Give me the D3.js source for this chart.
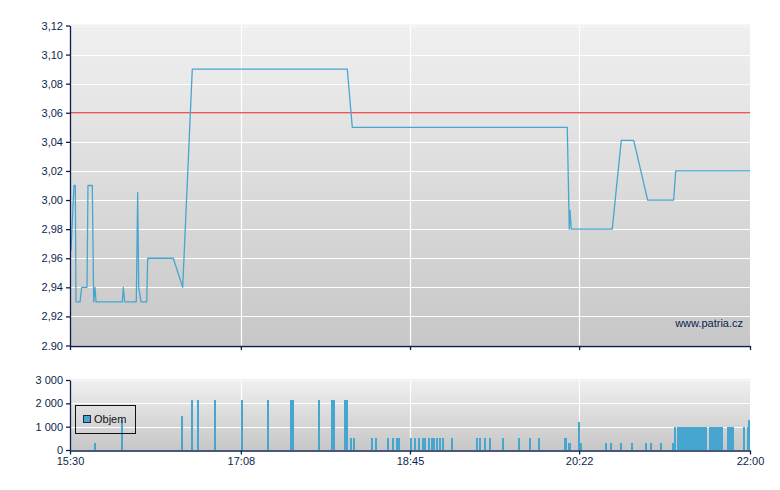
<!DOCTYPE html>
<html><head><meta charset="utf-8">
<script src="https://cdn.jsdelivr.net/npm/d3@7"></script>
<style>
html,body{margin:0;padding:0;background:#fff;}
svg text{font-family:"Liberation Sans",Arial,sans-serif;}
</style></head>
<body><svg id="c" width="780" height="490"></svg>
<script>
// ---- data ----
const priceTimes = ["15:30:34","15:32:17","15:33:02","15:33:26","15:35:44","15:36:43","15:39:45","15:40:19","15:42:47","15:43:35","15:44:20","15:44:55","16:00:00","16:00:34","16:01:22","16:08:01","16:08:49","16:09:24","16:10:43","16:14:00","16:14:34","16:29:14","16:34:38","16:40:08","18:09:02","18:11:54","20:15:12","20:16:21","20:16:45","20:17:30","20:41:00","20:46:10","20:53:18","21:01:18","21:16:13","21:17:23","22:00:00"];
const priceValues = [2.965,3.01,3.01,2.93,2.93,2.94,2.94,3.01,3.01,2.93,2.94,2.93,2.93,2.94,2.93,2.93,3.005,2.94,2.93,2.93,2.96,2.96,2.94,3.09,3.09,3.05,3.05,2.98,2.993,2.98,2.98,3.041,3.041,3.00,3.00,3.02,3.02];
const referencePrice = 3.06;

const volumeTimes = ["15:44:20","16:00:13","16:34:14","16:39:58","16:43:49","16:53:09","17:08:39","17:23:33","17:37:12","17:38:21","17:53:12","18:00:43","18:01:52","18:07:50","18:08:52",
 "18:11:33","18:13:17","18:23:36","18:25:29","18:32:46","18:35:14","18:37:39","18:38:41","18:45:34","18:47:51","18:50:19","18:52:23","18:53:15","18:54:03","18:55:53","18:57:36","18:59:09","19:00:52","19:02:22","19:04:05","19:09:05","19:23:49","19:25:32","19:28:24","19:31:16","19:38:44","19:47:30","19:53:48","19:58:58",
 "20:13:50","20:14:49","20:16:08","20:17:13","20:22:19","20:23:04","20:37:48","20:40:40","20:46:10","20:52:43","21:00:44","21:03:36","21:09:20","21:16:00","21:16:58",
 "21:19:12","21:20:12","21:21:12","21:22:12","21:23:12","21:24:12","21:25:12","21:26:12","21:27:12","21:28:12","21:29:12","21:30:12","21:31:12","21:32:12","21:33:12","21:34:12","21:35:12",
 "21:37:00","21:38:00","21:39:00","21:40:00","21:41:00","21:42:00","21:43:00","21:44:00",
 "21:47:20","21:48:20","21:49:20","21:50:20","21:56:30","21:58:47","21:59:40"];
const volumeValues = [300,1300,1450,2150,2150,2150,2150,2150,2150,2150,2150,2150,2150,2150,2150,
 500,500,500,500,500,500,500,500,500,500,500,500,500,500,500,500,500,500,500,500,500,500,500,500,500,500,500,500,500,
 500,500,300,300,1200,300,300,300,300,300,300,300,300,300,1000,
 1000,1000,1000,1000,1000,1000,1000,1000,1000,1000,1000,1000,1000,1000,1000,1000,1000,
 1000,1000,1000,1000,1000,1000,1000,1000,
 1000,1000,1000,1000,1000,1000,1300];

const xTickTimes = ["15:30:00","17:08:00","18:45:00","20:22:00","22:00:00"];
const xTickLabels = ["15:30","17:08","18:45","20:22","22:00"];
const priceTicks = [2.90,2.92,2.94,2.96,2.98,3.00,3.02,3.04,3.06,3.08,3.10,3.12];
const priceTickLabels = ["2.90","2,92","2,94","2,96","2,98","3,00","3,02","3,04","3,06","3,08","3,10","3,12"];
const volumeTicks = [0,1000,2000,3000];
const volumeTickLabels = ["0","1 000","2 000","3 000"];
const legendLabel = "Objem";
const watermark = "www.patria.cz";

// ---- setup ----
const parse = d3.timeParse("%H:%M:%S");
const svg = d3.select("#c");
const navy = "#0b1f4e";
const blue = "#47a6cf";
const L = 70, R = 750;
const mainTop = 25.5, mainBot = 345.5;
const volTop = 380, volBot = 450;

const x = d3.scaleTime().domain([parse("15:30:00"), parse("22:00:00")]).range([L, R]);
const y = d3.scaleLinear().domain([2.90, 3.12]).range([mainBot, mainTop]);
const yv = d3.scaleLinear().domain([0, 3000]).range([volBot, volTop]);

const defs = svg.append("defs");
const g1 = defs.append("linearGradient").attr("id","bg").attr("x1",0).attr("y1",0).attr("x2",0).attr("y2",1);
g1.append("stop").attr("offset","0%").attr("stop-color","#f0f0f0");
g1.append("stop").attr("offset","100%").attr("stop-color","#c7c7c7");
defs.append("clipPath").attr("id","clipMain").append("rect").attr("x",L).attr("y",mainTop-2).attr("width",R-L).attr("height",mainBot-mainTop+2);

const xTicks = xTickTimes.map(parse);

// backgrounds
svg.append("rect").attr("x",L).attr("y",mainTop-1).attr("width",R-L).attr("height",mainBot-mainTop+1).attr("fill","url(#bg)");
svg.append("rect").attr("x",L).attr("y",volTop-1).attr("width",R-L).attr("height",volBot-volTop+1).attr("fill","url(#bg)");

// grid
const gridM = svg.append("g").attr("stroke","#fff").attr("stroke-width",1.2);
priceTicks.slice(1).forEach(v=>{
  const yy = Math.round(y(v))+0.5;
  gridM.append("line").attr("x1",L).attr("x2",R).attr("y1",yy).attr("y2",yy).attr("stroke-opacity", v===3.12?0.5:1);
});
xTicks.slice(1,-1).forEach(t=>{
  const xx = Math.round(x(t))+0.5;
  gridM.append("line").attr("x1",xx).attr("x2",xx).attr("y1",mainTop).attr("y2",mainBot);
  gridM.append("line").attr("x1",xx).attr("x2",xx).attr("y1",volTop).attr("y2",volBot);
});
volumeTicks.slice(1).forEach(v=>{
  const yy = Math.round(yv(v))+0.5;
  gridM.append("line").attr("x1",L).attr("x2",R).attr("y1",yy).attr("y2",yy).attr("stroke-opacity", v===3000?0.5:1);
});

// reference line
svg.append("line").attr("x1",L).attr("x2",R).attr("y1",y(referencePrice)).attr("y2",y(referencePrice))
  .attr("stroke","#e24a4c").attr("stroke-width",1.4).attr("stroke-opacity",0.9);

// price line
const pts = priceTimes.map((t,i)=>({t:parse(t), v:priceValues[i]}));
svg.append("path").datum(pts).attr("clip-path","url(#clipMain)")
  .attr("fill","none").attr("stroke",blue).attr("stroke-width",1.3).attr("stroke-linejoin","round")
  .attr("d", d3.line().x(d=>x(d.t)).y(d=>y(d.v)));

// watermark
svg.append("text").attr("x",743).attr("y",327).attr("text-anchor","end").attr("font-size",11).attr("fill",navy).text(watermark);

// volume bars
const vols = volumeTimes.map((t,i)=>({t:parse(t), v:volumeValues[i]}));
const barW = x(parse("15:31:00")) - x(parse("15:30:00"));
svg.append("g").attr("shape-rendering","crispEdges").selectAll("rect").data(vols).join("rect")
  .attr("x", d=>Math.floor(x(d.t)-barW/2)).attr("width", Math.ceil(barW))
  .attr("y", d=>Math.round(yv(d.v))).attr("height", d=>volBot-Math.round(yv(d.v)))
  .attr("fill", blue);

// axes
function styleAxis(g){
  g.select(".domain").attr("stroke",navy).attr("stroke-width",1.3);
  g.selectAll(".tick line").attr("stroke",navy).attr("stroke-width",1.3);
  g.selectAll(".tick text").attr("fill",navy).attr("font-size",11).attr("font-family",'"Liberation Sans",Arial,sans-serif');
}
svg.append("g").attr("transform",`translate(${L},0)`)
  .call(d3.axisLeft(y).tickValues(priceTicks).tickFormat((d,i)=>priceTickLabels[i]).tickSize(4).tickSizeOuter(0).tickPadding(3))
  .call(styleAxis);
svg.append("g").attr("transform",`translate(0,${mainBot+0.5})`)
  .call(d3.axisBottom(x).tickValues(xTicks).tickFormat("").tickSize(4).tickSizeOuter(0))
  .call(styleAxis);
svg.append("g").attr("transform",`translate(${L},0)`)
  .call(d3.axisLeft(yv).tickValues(volumeTicks).tickFormat((d,i)=>volumeTickLabels[i]).tickSize(4).tickSizeOuter(0).tickPadding(3))
  .call(styleAxis);
svg.append("g").attr("transform",`translate(0,${volBot+0.5})`)
  .call(d3.axisBottom(x).tickValues(xTicks).tickFormat((d,i)=>xTickLabels[i]).tickSize(4).tickSizeOuter(0).tickPadding(3))
  .call(styleAxis);

// legend
const lg = svg.append("g");
lg.append("rect").attr("x",75.5).attr("y",405.5).attr("width",60).attr("height",28).attr("fill","none").attr("stroke","#111").attr("stroke-width",1);
lg.append("rect").attr("x",83.5).attr("y",415.5).attr("width",7).attr("height",7).attr("fill",blue).attr("stroke","#1a2a4a").attr("stroke-width",1);
lg.append("text").attr("x",94).attr("y",423).attr("font-size",11).attr("fill","#111").text(legendLabel);
</script></body></html>
